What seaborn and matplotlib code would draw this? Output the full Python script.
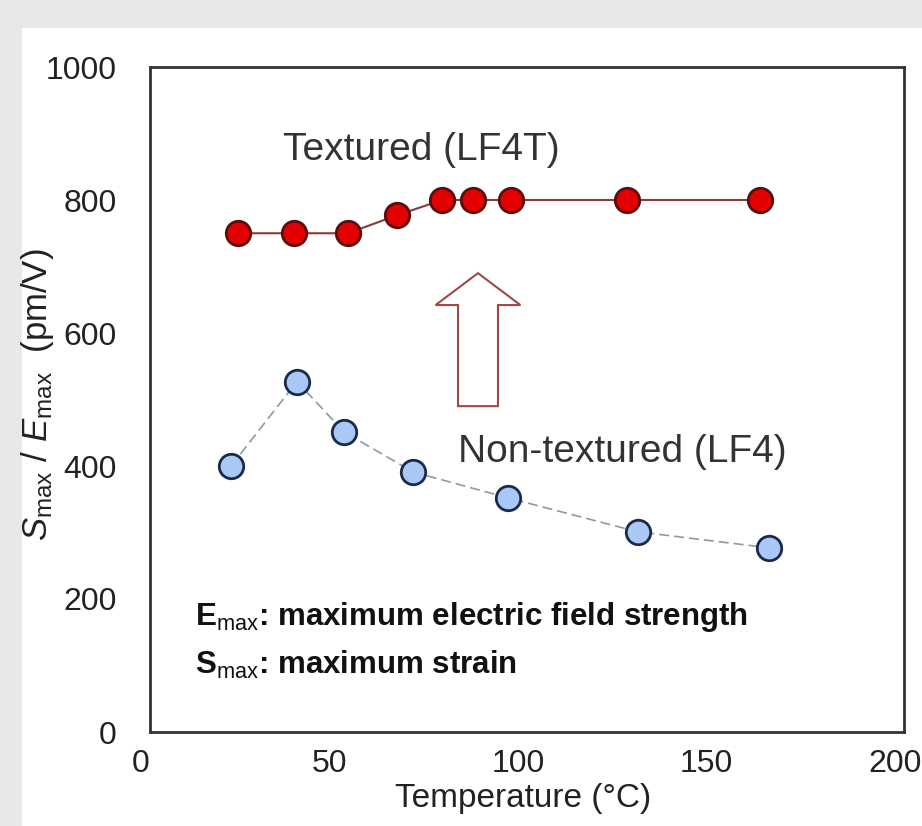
import matplotlib
matplotlib.use("Agg")
import matplotlib.pyplot as plt
from matplotlib.patches import FancyArrow, Rectangle
from matplotlib.transforms import ScaledTranslation
import seaborn as sns
import pandas as pd

# Data
tex_T = [23.3, 38.2, 52.5, 65.5, 77.5, 85.7, 95.8, 126.5, 161.8]
tex_S = [750, 750, 750, 777, 800, 800, 800, 800, 800]
non_T = [21.5, 39.0, 51.5, 69.8, 95.0, 129.4, 164.2]
non_S = [400, 527, 451, 391, 352, 301, 277]
x_ticks = [0, 50, 100, 150, 200]
y_ticks = [0, 200, 400, 600, 800, 1000]

sns.set_style("white")
plt.rcParams['font.family'] = ['Liberation Sans', 'DejaVu Sans']
plt.rcParams['mathtext.fontset'] = 'custom'
plt.rcParams['mathtext.rm'] = 'Liberation Sans'
plt.rcParams['mathtext.it'] = 'Liberation Sans:italic'
plt.rcParams['mathtext.bf'] = 'Liberation Sans:bold'

df_t = pd.DataFrame({"T": tex_T, "S": tex_S})
df_n = pd.DataFrame({"T": non_T, "S": non_S})

fig = plt.figure(figsize=(9.22, 8.26), dpi=100)
fig.patch.set_facecolor("#e8e8e8")
fig.add_artist(Rectangle((22 / 922, 0), 1, 1 - 28 / 826, transform=fig.transFigure,
                         facecolor="white", edgecolor="none", zorder=0))

ax = fig.add_axes([150 / 922, 1 - 732 / 826, (904 - 150) / 922, (732 - 67) / 826])
ax.set_facecolor("white")

sns.lineplot(data=df_n, x="T", y="S", ax=ax, color="#8a9aa8", lw=1.2,
             linestyle=(0, (6, 3)), zorder=2)
sns.scatterplot(data=df_n, x="T", y="S", ax=ax, color="#a9c8f5", edgecolor="#1c2a48",
                linewidth=2, s=310, zorder=3)
sns.lineplot(data=df_t, x="T", y="S", ax=ax, color="#8b3a3a", lw=1.5, zorder=2)
sns.scatterplot(data=df_t, x="T", y="S", ax=ax, color="#e30000", edgecolor="#5a0d0d",
                linewidth=2, s=310, zorder=3)

arrow = FancyArrow(87.0, 490, 0, 200, width=10.6, head_width=22.5, head_length=48,
                   length_includes_head=True, facecolor="white", edgecolor="#a04848",
                   lw=1.5, zorder=2)
ax.add_patch(arrow)

ax.text(35.3, 875, "Textured (LF4T)", fontsize=28, color="#333333", va="center", ha="left")
ax.text(81.7, 421, "Non-textured (LF4)", fontsize=28, color="#333333", va="center", ha="left")

ax.text(11.9, 173, r"E$_{\mathrm{max}}$: maximum electric field strength", fontsize=22.5,
        fontweight="bold", color="#111111", va="center", ha="left")
ax.text(11.9, 101, r"S$_{\mathrm{max}}$: maximum strain", fontsize=22.5,
        fontweight="bold", color="#111111", va="center", ha="left")

ax.set_xlim(0, 200)
ax.set_ylim(0, 1000)
ax.set_xticks(x_ticks)
ax.set_yticks(y_ticks)
ax.set_xticks([25, 75, 125, 175], minor=True)
ax.set_yticks([100, 300, 500, 700, 900], minor=True)
ax.tick_params(which="major", direction="in", length=11, width=1.2, color="#222222",
               labelsize=23, labelcolor="#222222")
ax.tick_params(axis="y", which="major", pad=24)
ax.tick_params(axis="x", which="major", pad=12)
ax.tick_params(which="minor", direction="in", length=5, width=1.2, color="#222222")
for s in ax.spines.values():
    s.set_color("#333333")
    s.set_linewidth(2)

shift = ScaledTranslation(-9 / 100, 0, fig.dpi_scale_trans)
for lab in ax.get_xticklabels():
    lab.set_transform(lab.get_transform() + shift)

ax.set_xlabel("Temperature (°C)", fontsize=24, color="#222222", labelpad=0)
ax.xaxis.set_label_coords(0.495, -0.077)
ax.xaxis.label.set_va("top")
ax.set_ylabel(r"$S_{\mathrm{max}}$ / $E_{\mathrm{max}}$  (pm/V)", fontsize=25,
              color="#222222", labelpad=0)
ax.yaxis.set_label_coords(-0.125, 0.507)

fig.savefig("out.png", dpi=100, facecolor=fig.get_facecolor())
